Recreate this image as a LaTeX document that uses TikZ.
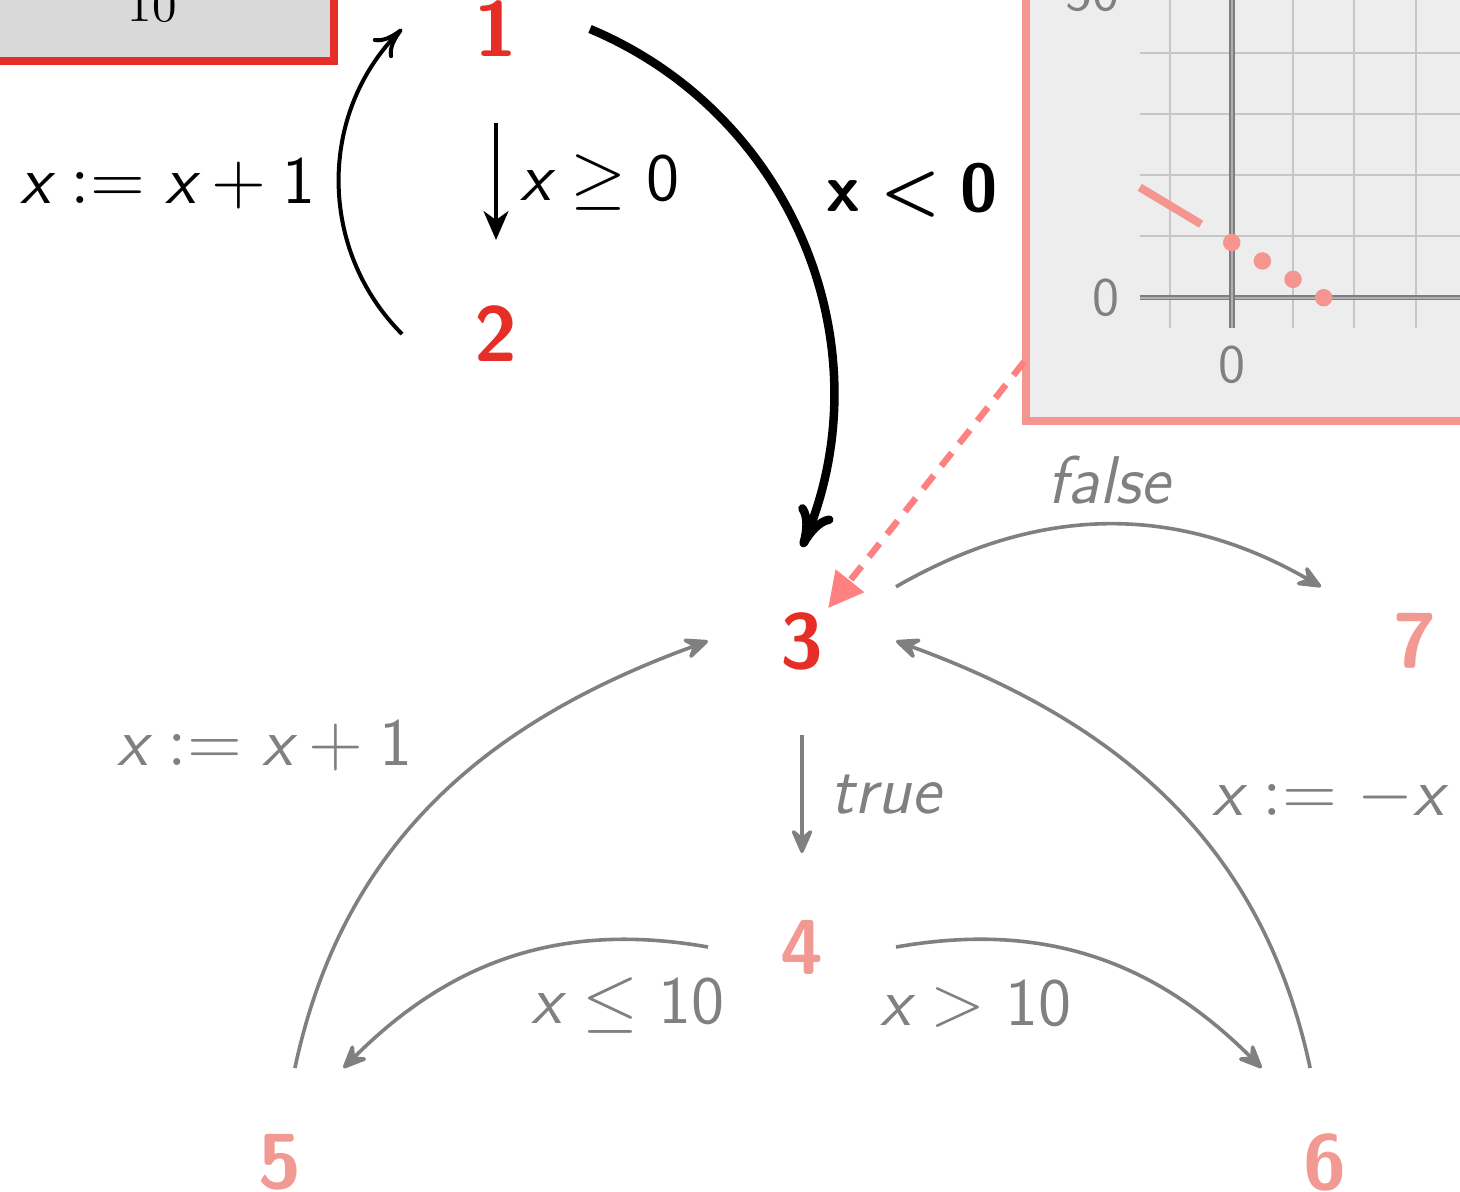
\documentclass[tikz,border=0pt]{standalone}
\usepackage{fontspec}
\usetikzlibrary{arrows.meta}
\definecolor{nred}{HTML}{E52E25}
\definecolor{npink}{HTML}{F29993}
\definecolor{plotpink}{HTML}{F4958F}
\definecolor{salmon}{HTML}{FF8080}
\definecolor{egray}{HTML}{808080}
\definecolor{gridgray}{HTML}{C6C6C6}
\definecolor{plotbg}{HTML}{EDEDED}
\definecolor{boxgray}{HTML}{D9D9D9}
\definecolor{axisgray}{HTML}{7E7E7E}
\definecolor{axislight}{HTML}{B0B0B0}
\newcommand{\vx}{\textsf{\itshape x}}
\newcommand{\sfn}[1]{\textsf{#1}}
\begin{document}
\begin{tikzpicture}[x=0.2pt,y=0.2pt,
  state/.style={rectangle, minimum size=37.2pt, inner sep=0pt, font=\fontsize{15.6}{18}\selectfont\sffamily\bfseries},
  lbl/.style={inner sep=0pt, font=\fontsize{13.5}{16}\selectfont},
  glbl/.style={lbl, text=egray},
  blkstraight/.style={line width=0.7pt, -{Stealth[length=5.8pt,width=5pt,inset=1.8pt]}},
  blkarc/.style={line width=0.8pt, -{Computer Modern Rightarrow[length=5.8pt,width=5.4pt]}},
  blkthick/.style={line width=1.7pt, -{Computer Modern Rightarrow[length=8pt,width=7.5pt]}},
  grayedge/.style={draw=egray, line width=0.72pt, -{Stealth[length=6pt,width=5.2pt,inset=2.2pt,round]}},
  dashedge/.style={draw=salmon, line width=1.3pt, dash pattern=on 3.4pt off 2.4pt, -{Triangle[length=7pt,width=7pt]}, shorten >=8.4pt},
  gridline/.style={draw=gridgray, line width=0.4pt},
  axisline/.style={draw=axisgray, line width=0.38pt, double=axislight, double distance=0.35pt},
  ticklbl/.style={inner sep=0pt, text=egray, font=\fontsize{10.8}{13}\selectfont\sffamily}
]
\useasboundingbox (0,0) rectangle (1460,1191);
\clip (0,0) rectangle (1460,1191);

% plot panel (top right)
\fill[plotbg] (1026,770) rectangle (1520,1240);
\begin{scope}[shift={(1231.7,893.3)}, x=6.13pt, y=1.226pt]
  \draw[gridline] (-3,-5) grid[xstep=2,ystep=10] (9,60);
  \draw[axisline] (-3,0) -- (9,0);
  \draw[axisline] (0,-5) -- (0,60);
  \draw[plotpink, line width=1.6pt] (-3,18) -- (-1,12);
  \fill[plotpink] (0,9) circle[radius=1.75pt];
  \fill[plotpink] (1,6) circle[radius=1.75pt];
  \fill[plotpink] (2,3) circle[radius=1.75pt];
  \fill[plotpink] (3,0) circle[radius=1.75pt];
\end{scope}
\node[ticklbl] (tx0) at (1232,826) {0};
\node[ticklbl, anchor=east] (ty0) at (1120,893) {0};
\node[ticklbl, anchor=east] (ty50) at (1120,1198) {50};
\draw[plotpink, line width=1.6pt] (1026,770) rectangle (1520,1240);
\coordinate (pstart) at (1024,829);

% top-left box
\node[draw=nred, fill=boxgray, line width=1.6pt, minimum width=72.8pt, minimum height=22pt, inner sep=0pt,
      font=\fontsize{9.8}{11}\selectfont\rmfamily] (tl) at (152,1185) {10};

% states
\node[state, text=nred]  (n1) at (496,1162) {1};
\node[state, text=nred]  (n2) at (496,857) {2};
\node[state, text=nred]  (n3) at (802,550) {3};
\node[state, text=npink] (n4) at (802,244) {4};
\node[state, text=npink] (n5) at (280,29) {5};
\node[state, text=npink] (n6) at (1325,29) {6};
\node[state, text=npink] (n7) at (1415,550) {7};

% edges
\draw[blkstraight] (n1) -- (n2);
\draw[blkarc] (n2.west) to[bend left=45] (n1.west);
\draw[blkthick] (n1.east) to[bend left=45] (n3.north);
\draw[grayedge] (n3) -- (n4);
\draw[grayedge] (n3) to[bend left=30] (n7);
\draw[grayedge] (n5.81) to[out=78,in=200] (n3.west);
\draw[grayedge] (n6.99) to[out=102,in=-20] (n3.east);
\draw[grayedge] (n4.west) to[out=170,in=45] (n5.56);
\draw[grayedge] (n4.east) to[out=10,in=135] (n6.124);
\draw[dashedge] (pstart) -- (n3.center);

% labels
\node[lbl] (l1) at (168,1008) {$\vx := \vx + \sfn{1}$};
\node[lbl] (l2) at (600,1009) {$\vx \geq \sfn{0}$};
\node[lbl, font=\fontsize{13.5}{16}\selectfont\sffamily\bfseries] (l3) at (912,1001) {x\hspace{0.3em}<\hspace{0.3em}0};
\node[glbl] (l4) at (1110,711) {\textsf{\itshape false}};
\node[glbl] (l5) at (265,446) {$\vx := \vx + \sfn{1}$};
\node[glbl] (l6) at (887,396) {\textsf{\itshape true}};
\node[glbl] (l7) at (1328,394) {$\vx := -\vx$};
\node[glbl] (l8) at (628,186) {$\vx \leq \sfn{10}$};
\node[glbl] (l9) at (976,187) {$\vx > \sfn{10}$};
\end{tikzpicture}
\end{document}
